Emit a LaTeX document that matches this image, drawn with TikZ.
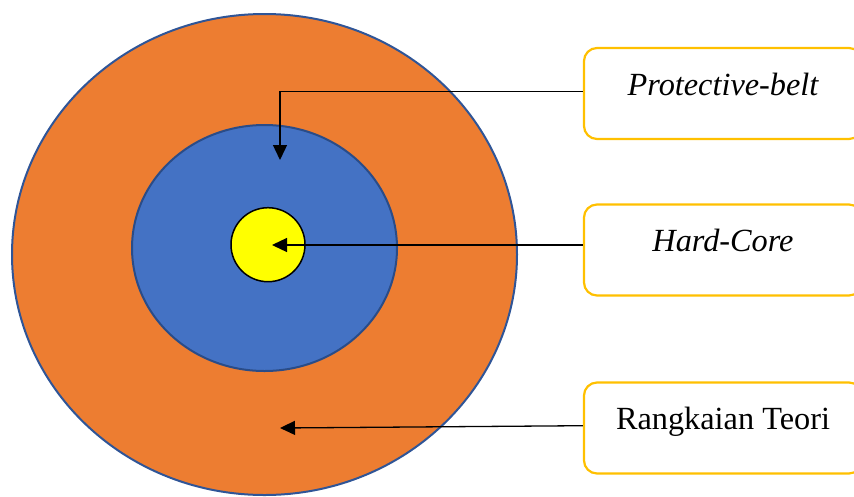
\documentclass[tikz,border=0pt]{standalone}
\usepackage{fontspec}
\setmainfont{Liberation Serif}
\usetikzlibrary{arrows.meta}
\definecolor{orangefill}{HTML}{ED7D31}
\definecolor{bluefill}{HTML}{4472C4}
\definecolor{ringedge}{HTML}{2F5597}
\definecolor{boxedge}{HTML}{FFC000}
\definecolor{yellowfill}{HTML}{FFFF00}
\begin{document}
\begin{tikzpicture}[x=1pt,y=-1pt,
  labelbox/.style={draw=boxedge, line width=2.2pt, rounded corners=13pt, fill=white,
    minimum width=278pt, minimum height=91pt, inner sep=0pt,
    font=\fontsize{32.3}{36}\selectfont, text height=25pt, text depth=22pt},
  arr/.style={-{Triangle[length=15pt,width=14pt]}, line width=1.3pt, black}]
\useasboundingbox (0,0) rectangle (854,496);
% rings
\path[fill=orangefill, draw=ringedge, line width=2pt] (264.5,254.5) ellipse [x radius=252.5pt, y radius=240.5pt];
\path[fill=bluefill, draw=ringedge!90!black, line width=2pt] (264.5,248) ellipse [x radius=132.5pt, y radius=123pt];
\path[fill=yellowfill, draw=black, line width=1.5pt] (268,244.7) circle [radius=37pt];
% boxes
\node[labelbox] (pb) at (723,93.5) {\itshape Protective-belt};
\node[labelbox] (hc) at (723,250) {\itshape Hard-Core};
\node[labelbox] (rt) at (723,428) {Rangkaian Teori};
% arrow targets
\coordinate (tpb) at (280,160);
\coordinate (thc) at (272,245);
\coordinate (trt) at (280,428);
% connectors
\draw[arr] ([yshift=1.8pt]pb.west) -| (tpb);
\draw[arr] ([yshift=5pt]hc.west) -- (thc);
\draw[arr] ([yshift=2.3pt]rt.west) -- (trt);
\end{tikzpicture}
\end{document}
